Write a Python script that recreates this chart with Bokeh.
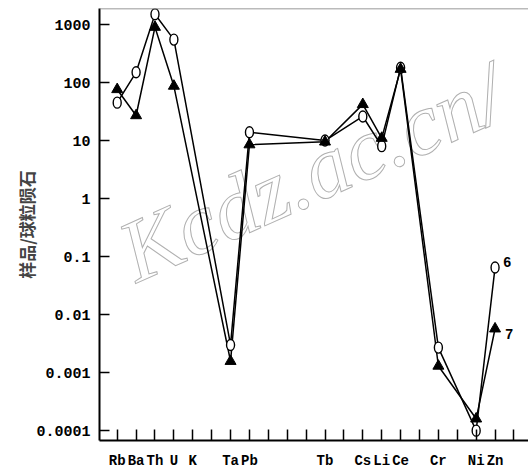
from bokeh.plotting import figure
from bokeh.models import Range1d, FixedTicker, CustomJSTickFormatter, Label, Span
from bokeh.core.properties import value
from bokeh.embed import file_html
from bokeh.resources import INLINE

# x-axis slots (empty string = unlabeled tick)
tick_labels = ["Rb", "Ba", "Th", "U", "K", "", "Ta", "Pb", "", "", "", "Tb",
               "", "Cs", "Li", "Ce", "", "Cr", "", "Ni", "Zn", ""]
y_ticks = [0.0001, 0.001, 0.01, 0.1, 1, 10, 100, 1000]

# sample 6 (open circles)
elements6 = ["Rb", "Ba", "Th", "U", "Ta", "Pb", "Tb", "Cs", "Li", "Ce", "Cr", "Ni", "Zn"]
values6 = [45, 150, 1500, 550, 0.003, 13.9, 10, 26, 8, 180, 0.0027, 0.0001, 0.065]
# sample 7 (filled triangles)
elements7 = ["Rb", "Ba", "Th", "U", "Ta", "Pb", "Tb", "Cs", "Li", "Ce", "Cr", "Ni", "Zn"]
values7 = [76, 27, 900, 87, 0.00157, 8.5, 9.5, 42, 11, 170, 0.0013, 0.00016, 0.0057]

series_names = ["6", "7"]
y_label = "样品/球粒陨石"
watermark = "Kcdz.ac.cn/"

pos = {name: i + 1 for i, name in enumerate(tick_labels) if name}
x6 = [pos[e] for e in elements6]
x7 = [pos[e] for e in elements7]

y_lo, y_hi = 10 ** -4.17, 10 ** 3.276

p = figure(width=528, height=471, y_axis_type="log",
           x_range=Range1d(0.063, 22.77), y_range=Range1d(y_lo, y_hi),
           output_backend="svg", toolbar_location=None,
           min_border_left=99, min_border_right=0, min_border_top=8,
           min_border_bottom=30)
p.outline_line_color = None
p.xgrid.visible = False
p.ygrid.visible = False
p.background_fill_color = "white"
p.border_fill_color = "white"

# watermark (kept inside the plotting frame)
wm = Label(x=11.3, y=2.8, text=watermark, angle=0.42,
           text_align="center", text_baseline="middle",
           text_font="Liberation Serif", text_font_style="italic",
           text_font_size="88px", text_color="white",
           text_outline_color="#b0b0b0", level="underlay")
p.add_layout(wm)

# top frame line
p.add_layout(Span(location=y_hi, dimension="width", line_color="#777777", line_width=1.5))

# lines
p.line(x6, values6, line_color="black", line_width=1.5)
p.line(x7, values7, line_color="black", line_width=1.5)

# markers
p.ellipse(x6, values6, width=8, height=11, width_units="screen", height_units="screen",
          fill_color="white", line_color="black", line_width=1.4)
p.scatter(x7, values7, marker="triangle", size=11, fill_color="black", line_color="black")

# series labels
p.text([x6[-1]], [values6[-1]], text=[series_names[0]], x_offset=8, y_offset=-5,
       text_align="left", text_baseline="middle",
       text_font=value("Liberation Mono"), text_font_style="bold", text_font_size="14px")
p.text([x7[-1]], [values7[-1]], text=[series_names[1]], x_offset=10, y_offset=5,
       text_align="left", text_baseline="middle",
       text_font=value("Liberation Mono"), text_font_style="bold", text_font_size="14px")

# x axis
xa = p.xaxis[0]
xa.ticker = FixedTicker(ticks=list(range(1, len(tick_labels) + 1)))
xa.major_label_overrides = {i + 1: t for i, t in enumerate(tick_labels)}
xa.major_tick_in = 11
xa.major_tick_out = 0
xa.minor_tick_line_color = None
xa.axis_line_width = 2
xa.major_tick_line_width = 1.5
xa.major_label_standoff = 12
xa.major_label_text_font = "Liberation Mono"
xa.major_label_text_font_style = "bold"
xa.major_label_text_font_size = "14px"
xa.major_label_text_color = "black"

# y axis
ya = p.yaxis[0]
ya.ticker = FixedTicker(ticks=y_ticks)
ya.formatter = CustomJSTickFormatter(
    code="return tick >= 1 ? String(Math.round(tick)) : String(Number(tick.toPrecision(1)));")
ya.major_tick_in = 10
ya.major_tick_out = 0
ya.minor_tick_line_color = None
ya.axis_line_width = 2
ya.major_tick_line_width = 1.5
ya.major_label_standoff = 9
ya.major_label_text_font = "Liberation Mono"
ya.major_label_text_font_style = "bold"
ya.major_label_text_font_size = "15px"
ya.major_label_text_color = "black"
ya.axis_label = y_label
ya.axis_label_standoff = -6
ya.axis_label_text_font = "Noto Sans CJK SC"
ya.axis_label_text_font_style = "bold"
ya.axis_label_text_font_size = "17px"

open("out.html", "w").write(file_html(p, INLINE))
